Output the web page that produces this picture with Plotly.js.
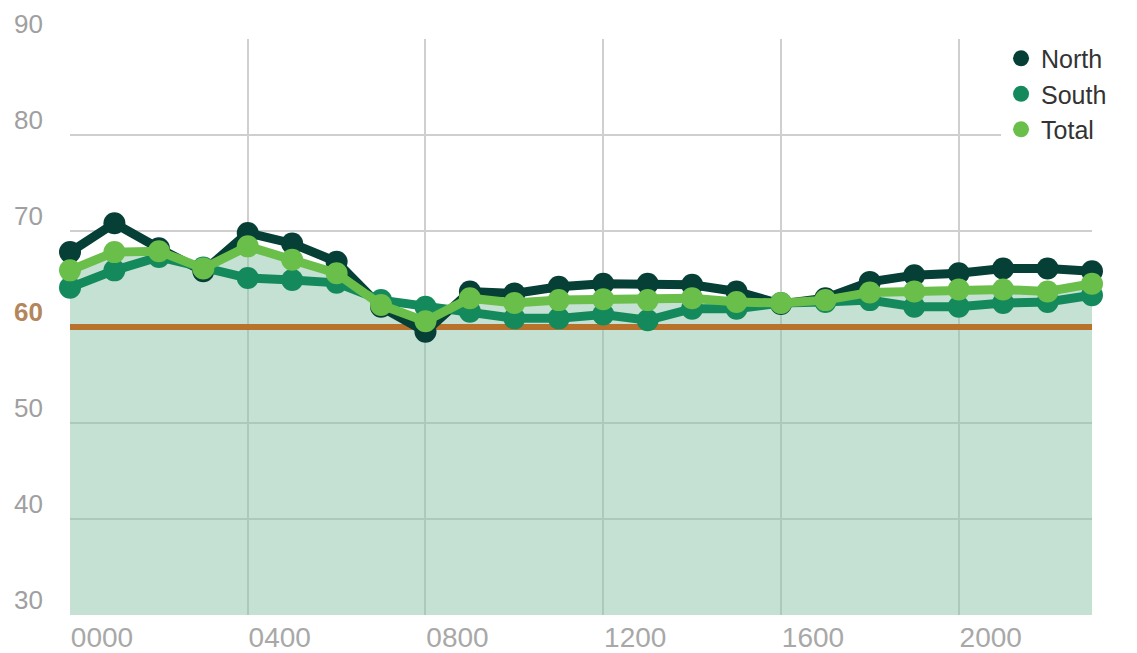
<!DOCTYPE html>
<html>
<head>
<meta charset="utf-8">
<script src="https://cdn.plot.ly/plotly-3.0.1.min.js"></script>
<style>
  html, body { margin: 0; padding: 0; background: #fff; }
  #chart { width: 1137px; height: 653px; }
</style>
</head>
<body>
<div id="chart"></div>
<script>
const hours = [0,1,2,3,4,5,6,7,8,9,10,11,12,13,14,15,16,17,18,19,20,21,22,23];
const north = [67.8,70.8,68.2,65.8,69.8,68.7,66.8,62.1,59.5,63.7,63.5,64.2,64.5,64.5,64.4,63.7,62.4,63.0,64.7,65.4,65.6,66.1,66.1,65.8];
const south = [64.1,65.9,67.3,66.2,65.1,64.9,64.6,62.8,62.1,61.6,60.9,60.9,61.3,60.7,61.9,61.9,62.5,62.6,62.8,62.1,62.1,62.5,62.6,63.3];
const total = [65.9,67.8,67.9,66.1,68.4,67.0,65.6,62.3,60.6,63.0,62.5,62.8,62.9,62.8,63.0,62.6,62.5,62.8,63.6,63.7,63.9,63.9,63.7,64.5];
const threshold = 60;
const xTickVals = [0,4,8,12,16,20];
const xTickText = ['0000','0400','0800','1200','1600','2000'];
const yTickVals = [30,40,50,60,70,80,90];
const yTickText = ['30','40','50','<span style="color:#b3865c"><b>60</b></span>','70','80','90'];

const seriesNames = ['North','South','Total'];
const seriesColors = ['#053f35','#148a5c','#6abf4b'];
const seriesData = [north, south, total];

const traces = [];
traces.push({
  x: hours, y: total, type: 'scatter', mode: 'lines',
  line: {width: 0, color: 'rgba(0,0,0,0)'},
  fill: 'tozeroy', fillcolor: 'rgba(139,196,168,0.5)',
  showlegend: false, hoverinfo: 'skip'
});
traces.push({
  x: [hours[0], hours[hours.length-1]], y: [threshold, threshold],
  type: 'scatter', mode: 'lines',
  line: {width: 6, color: '#b8722c'},
  showlegend: false, hoverinfo: 'skip'
});
seriesData.forEach((d, i) => {
  traces.push({
    x: hours, y: d, type: 'scatter', mode: 'lines+markers',
    name: seriesNames[i], legendgroup: seriesNames[i],
    line: {width: 9, color: seriesColors[i]},
    marker: {size: 22, color: seriesColors[i]},
    cliponaxis: false, showlegend: false
  });
});
seriesData.forEach((d, i) => {
  traces.push({
    x: [null], y: [null], type: 'scatter', mode: 'markers',
    name: seriesNames[i], legendgroup: seriesNames[i],
    marker: {size: 23, color: seriesColors[i]},
    showlegend: true
  });
});

const layout = {
  width: 1137, height: 653,
  margin: {l: 70, r: 45, t: 39, b: 38},
  paper_bgcolor: '#fff', plot_bgcolor: '#fff',
  font: {family: 'Liberation Sans, Arial, sans-serif'},
  showlegend: true,
  legend: {
    x: 0.911, y: 1.006, xanchor: 'left', yanchor: 'top',
    bgcolor: '#fff', font: {size: 25, color: '#333'},
    tracegroupgap: 0
  },
  xaxis: {
    range: [0, 23], tickmode: 'array', tickvals: xTickVals, ticktext: xTickText,
    showgrid: true, gridcolor: '#cfcfcf', gridwidth: 2,
    zeroline: false, showline: false, ticks: '',
    ticklabelshift: 32, ticklabelstandoff: 3,
    tickfont: {size: 28, color: '#a8a8a8'}
  },
  yaxis: {
    range: [30, 90], tickmode: 'array', tickvals: yTickVals, ticktext: yTickText,
    showgrid: true, gridcolor: '#cfcfcf', gridwidth: 2,
    zeroline: false, showline: false, ticks: '',
    ticklabelshift: -15, ticklabelstandoff: 26,
    tickfont: {size: 26, color: '#a0a0a0'}
  }
};

Plotly.newPlot('chart', traces, layout, {displayModeBar: false, staticPlot: true});
</script>
</body>
</html>
